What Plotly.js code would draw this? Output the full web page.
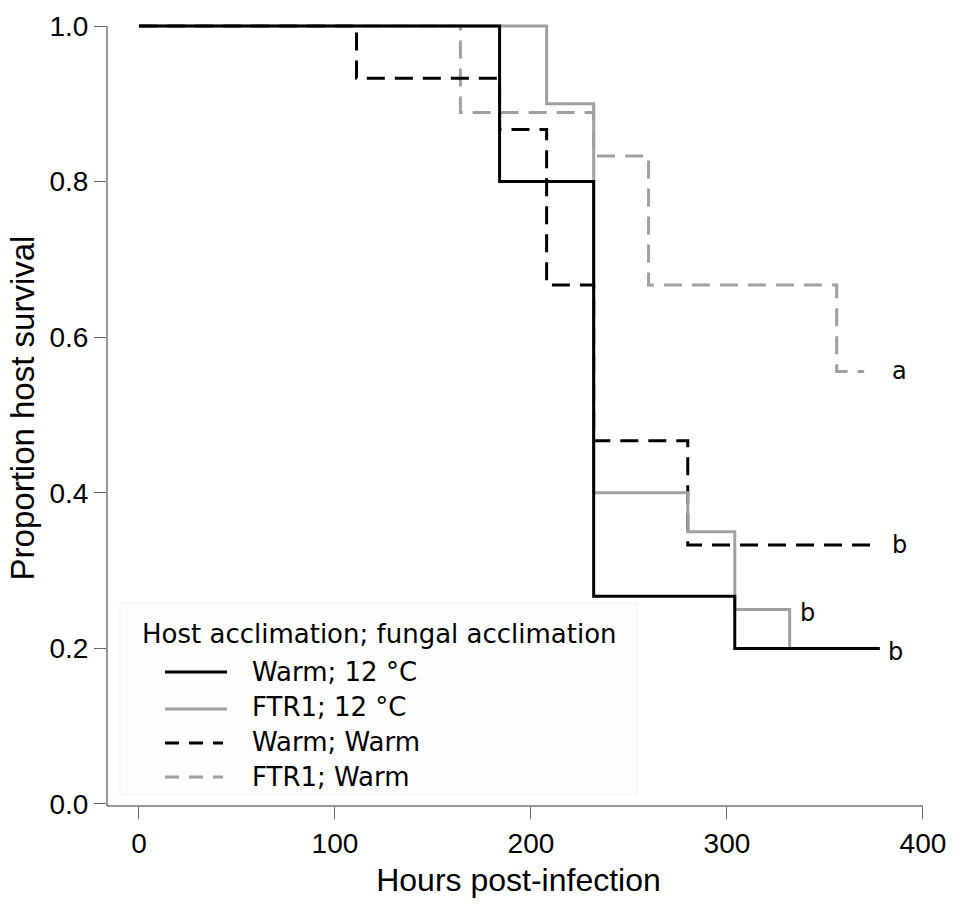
<!DOCTYPE html>
<html><head><meta charset="utf-8">
<script src="https://cdn.plot.ly/plotly-3.0.1.min.js"></script>
<style>html,body{margin:0;padding:0;background:#fff}#chart{width:956px;height:922px}</style>
</head><body><div id="chart"></div>
<script>
// ---------- data ----------
const seriesNames = ['Warm; 12 °C', 'FTR1; 12 °C', 'Warm; Warm', 'FTR1; Warm'];
const legendTitle = 'Host acclimation; fungal acclimation';

// Kaplan-Meier steps: hours at which survival changes (first = start, last = end of follow-up)
const warm12Hours = [0, 184, 232, 304, 378];
const warm12Surv  = [1.0, 0.8, 0.267, 0.2, 0.2];

const ftr12Hours  = [0, 208, 232, 280, 304, 332];
const ftr12Surv   = [1.0, 0.9, 0.4, 0.35, 0.25, 0.2];

const warmWarmHours = [0, 111, 184, 208, 232, 280, 376];
const warmWarmSurv  = [1.0, 0.933, 0.867, 0.667, 0.467, 0.333, 0.333];

const ftrWarmHours = [0, 164, 232, 260, 356, 370];
const ftrWarmSurv  = [1.0, 0.889, 0.833, 0.667, 0.556, 0.556];

// significance letters
const letterText = ['a', 'b', 'b', 'b'];
const letterX    = [383, 383, 336, 381];
const letterY    = [0.556, 0.333, 0.245, 0.195];

const xTicks = [0, 100, 200, 300, 400];
const yTicks = [0, 0.2, 0.4, 0.6, 0.8, 1.0];

// ---------- styles ----------
const BLACK = '#000000', GREY = '#a0a0a0';
const styles = [
  {color: BLACK, dash: 'solid'},
  {color: GREY,  dash: 'solid'},
  {color: BLACK, dash: '18px,10px'},
  {color: GREY,  dash: '18px,10px'}
];
const seriesX = [warm12Hours, ftr12Hours, warmWarmHours, ftrWarmHours];
const seriesY = [warm12Surv, ftr12Surv, warmWarmSurv, ftrWarmSurv];
const drawOrder = [3, 2, 1, 0];

// plot-area geometry (pixels)
const PL = 107, PR = 930, PT = 10, PB = 806;
const xMin = -16.3, xMax = 403.6;
const yMin = -0.0026, yMax = 1.0206;
const px = x => (x - PL) / (PR - PL);
const py = y => (PB - y) / (PB - PT);

const traces = drawOrder.map(i => ({
  type: 'scatter', mode: 'lines', name: seriesNames[i],
  x: seriesX[i], y: seriesY[i],
  line: {shape: 'hv', color: styles[i].color, dash: styles[i].dash, width: 3},
  showlegend: false, hoverinfo: 'skip'
}));

const TICKFONT = {family: 'Liberation Sans, Arial, sans-serif', size: 28, color: '#000'};
const LEGFONT = {family: 'DejaVu Sans, Verdana, sans-serif', size: 26, color: '#000'};

const shapes = [
  // axis lines
  {type: 'line', xref: 'paper', x0: 0, x1: 0, yref: 'y', y0: yMin, y1: 1.0, line: {color: '#333', width: 1}},
  {type: 'line', xref: 'x', x0: xMin, x1: 400, yref: 'paper', y0: 0, y1: 0, line: {color: '#333', width: 1}},
  // legend box
  {type: 'rect', xref: 'paper', yref: 'paper', x0: px(120), x1: px(637), y0: py(795), y1: py(603),
   fillcolor: '#fdfdfd', line: {color: '#f3f3f3', width: 1}, layer: 'below'}
];
const legendLineY = [672, 709, 743, 777];
const legendTextY = [672, 707, 742, 777];
const annotations = [
  {xref: 'paper', yref: 'paper', x: px(140), y: py(634), xanchor: 'left', yanchor: 'middle',
   text: legendTitle, showarrow: false, font: LEGFONT}
];
seriesNames.forEach((n, i) => {
  shapes.push({type: 'line', xref: 'paper', yref: 'paper', x0: px(165), x1: px(i < 2 ? 227 : 223),
    y0: py(legendLineY[i]), y1: py(legendLineY[i]),
    line: {color: styles[i].color, width: 3, dash: i < 2 ? 'solid' : '14px,10px'}});
  annotations.push({xref: 'paper', yref: 'paper', x: px(250), y: py(legendTextY[i]),
    xanchor: 'left', yanchor: 'middle', text: n, showarrow: false, font: LEGFONT});
});
letterText.forEach((t, i) => {
  annotations.push({xref: 'x', yref: 'y', x: letterX[i], y: letterY[i], xanchor: 'left', yanchor: 'middle',
    text: t, showarrow: false, font: {family: 'DejaVu Sans, Verdana, sans-serif', size: 24, color: '#000'}});
});

const layout = {
  width: 956, height: 922,
  margin: {l: PL, r: 956 - PR, t: PT, b: 922 - PB},
  paper_bgcolor: '#fff', plot_bgcolor: '#fff',
  showlegend: false,
  xaxis: {
    range: [xMin, xMax], tickvals: xTicks, ticktext: xTicks.map(String),
    ticks: 'outside', ticklen: 12, tickwidth: 1, tickcolor: '#666',
    showline: false, showgrid: false, zeroline: false, tickfont: TICKFONT,
    title: {text: 'Hours post-infection', font: {family: 'Liberation Sans, Arial, sans-serif', size: 32, color: '#000'}, standoff: 11},
    automargin: true
  },
  yaxis: {
    range: [yMin, yMax], tickvals: yTicks, ticktext: yTicks.map(v => v.toFixed(1)),
    ticks: 'outside', ticklen: 12, tickwidth: 1, tickcolor: '#666',
    showline: false, showgrid: false, zeroline: false, tickfont: TICKFONT,
    title: {text: 'Proportion host survival', font: {family: 'Liberation Sans, Arial, sans-serif', size: 33, color: '#000'}, standoff: 4},
    automargin: true
  },
  shapes: shapes,
  annotations: annotations
};

Plotly.newPlot('chart', traces, layout, {displayModeBar: false, staticPlot: true});
</script>
</body></html>
